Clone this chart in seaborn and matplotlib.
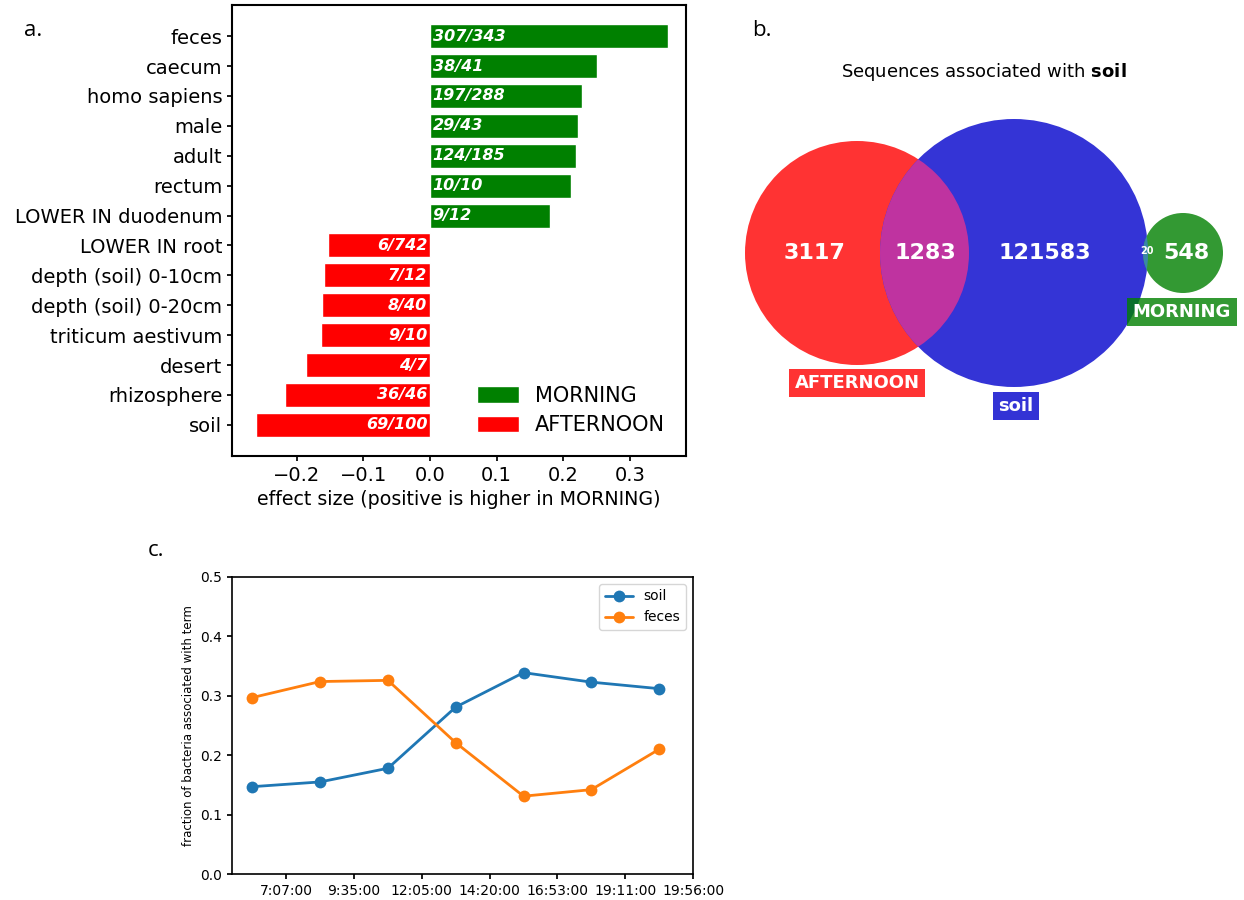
import seaborn as sns
import matplotlib.pyplot as plt
import pandas as pd
from matplotlib.patches import Circle

# PANEL A DATA
terms = ['feces', 'caecum', 'homo sapiens', 'male', 'adult', 'rectum',
         'LOWER IN duodenum', 'LOWER IN root', 'depth (soil) 0-10cm',
         'depth (soil) 0-20cm', 'triticum aestivum', 'desert', 'rhizosphere', 'soil']
effect = [0.357, 0.250, 0.228, 0.222, 0.219, 0.211, 0.180,
          -0.153, -0.159, -0.162, -0.163, -0.186, -0.217, -0.261]
counts = ['307/343', '38/41', '197/288', '29/43', '124/185', '10/10', '9/12',
          '6/742', '7/12', '8/40', '9/10', '4/7', '36/46', '69/100']
groups = ['MORNING', 'AFTERNOON']

# PANEL B DATA (venn region counts)
venn_counts = {'afternoon_only': 3117, 'afternoon_soil': 1283, 'soil_only': 121583,
               'soil_morning': 20, 'morning_only': 548}
venn_names = ['AFTERNOON', 'soil', 'MORNING']

# PANEL C DATA
time_labels = ['7:07:00', '9:35:00', '12:05:00', '14:20:00', '16:53:00', '19:11:00', '19:56:00']
soil_frac = [0.147, 0.155, 0.178, 0.281, 0.339, 0.323, 0.312]
feces_frac = [0.297, 0.324, 0.326, 0.221, 0.131, 0.142, 0.210]

custom_params = {'axes.edgecolor': 'black', 'xtick.color': 'black', 'ytick.color': 'black',
                 'xtick.major.size': 3.5, 'ytick.major.size': 3.5,
                 'text.color': 'black', 'axes.labelcolor': 'black'}
sns.set_theme(style='ticks', rc=custom_params)
plt.rcParams['font.family'] = ['DejaVu Sans']

fig = plt.figure(figsize=(12.44, 9), dpi=100)
W, H = 1244, 900
ax_a = fig.add_axes([232 / W, 1 - 456 / H, (686 - 232) / W, (456 - 5) / H])
ax_b = fig.add_axes([740 / W, 0.5, 504 / W, 0.5])
ax_c = fig.add_axes([232 / W, 1 - 874 / H, (693 - 232) / W, (874 - 577) / H])

# ---------------- PANEL A ----------------
df_a = pd.DataFrame({'term': terms, 'effect': effect,
                     'group': ['MORNING' if e > 0 else 'AFTERNOON' for e in effect]})
sns.barplot(data=df_a, x='effect', y='term', hue='group', hue_order=groups,
            palette={'MORNING': 'green', 'AFTERNOON': 'red'}, dodge=False,
            width=0.8, saturation=1, errorbar=None, ax=ax_a)
for i, (e, c) in enumerate(zip(effect, counts)):
    ax_a.text(0.004 if e > 0 else -0.004, i, c, ha='left' if e > 0 else 'right',
              va='center', color='white', fontsize=11.5, fontweight='bold', fontstyle='italic')
ax_a.set_ylim(len(terms) - 1 + 1.04, -1.04)
ax_a.set_xlim(-0.297, 0.384)
ax_a.set_xticks([-0.2, -0.1, 0.0, 0.1, 0.2, 0.3])
ax_a.set_xticklabels(['\u22120.2', '\u22120.1', '0.0', '0.1', '0.2', '0.3'])
ax_a.set_ylabel('')
ax_a.set_xlabel('effect size (positive is higher in MORNING)', fontsize=13.7)
ax_a.tick_params(labelsize=14)
for s in ax_a.spines.values():
    s.set_linewidth(1.5)
ax_a.legend(loc='lower right', frameon=False, fontsize=15, handlelength=2.0,
            handleheight=0.85, labelspacing=0.45, borderaxespad=0.6)

# ---------------- PANEL B ----------------
ax_b.set_xlim(0, 504)
ax_b.set_ylim(450, 0)
ax_b.axis('off')
red_c = Circle((117, 253), 112, facecolor='#ff3333', edgecolor='none', zorder=1)
blue_c = Circle((274, 253), 134, facecolor='#3434d6', edgecolor='none', zorder=2)
green_c = Circle((443, 253), 40, facecolor='#339933', edgecolor='none', zorder=2)
for p in (red_c, blue_c, green_c):
    ax_b.add_patch(p)
lens1 = Circle((117, 253), 112, facecolor='#bf33a0', edgecolor='none', zorder=3)
ax_b.add_patch(lens1)
lens1.set_clip_path(blue_c)
lens2 = Circle((443, 253), 40, facecolor='#3a86a8', edgecolor='none', zorder=3)
ax_b.add_patch(lens2)
lens2.set_clip_path(blue_c)

num_kw = dict(ha='center', va='center', color='white', fontweight='bold', zorder=5)
ax_b.text(74, 253, str(venn_counts['afternoon_only']), fontsize=16, **num_kw)
ax_b.text(185, 253, str(venn_counts['afternoon_soil']), fontsize=16, **num_kw)
ax_b.text(305, 253, str(venn_counts['soil_only']), fontsize=16, **num_kw)
ax_b.text(407, 251, str(venn_counts['soil_morning']), fontsize=7, **num_kw)
ax_b.text(446, 253, str(venn_counts['morning_only']), fontsize=16, **num_kw)

for name, (x, y), col in zip(venn_names, [(117, 383), (276, 406), (442, 312)],
                              ['red', '#0000cb', 'green']):
    ax_b.text(x, y, name, ha='center', va='center', color='white', fontsize=13,
              fontweight='bold', zorder=6,
              bbox=dict(boxstyle='square,pad=0.3', facecolor=col, alpha=0.8, edgecolor='none'))
ax_b.text(244, 72, r'Sequences associated with $\bf{soil}$', ha='center', va='center', fontsize=13)

# ---------------- PANEL C ----------------
df_c = pd.DataFrame({'idx': list(range(len(soil_frac))) * 2,
                     'fraction': soil_frac + feces_frac,
                     'term': ['soil'] * len(soil_frac) + ['feces'] * len(feces_frac)})
sns.lineplot(data=df_c, x='idx', y='fraction', hue='term', marker='o',
             palette=['tab:blue', 'tab:orange'], linewidth=2, markersize=8.5,
             markeredgewidth=0, ax=ax_c)
ax_c.set_xticks([i + 0.5 for i in range(len(time_labels))])
ax_c.set_xticklabels(time_labels)
ax_c.set_xlim(-0.3, 6.5)
ax_c.set_ylim(0, 0.5)
ax_c.set_yticks([0.0, 0.1, 0.2, 0.3, 0.4, 0.5])
ax_c.set_xlabel('')
ax_c.set_ylabel('fraction of bacteria associated with term', fontsize=8.5)
ax_c.tick_params(labelsize=10)
for s in ax_c.spines.values():
    s.set_linewidth(1.2)
h, l = ax_c.get_legend_handles_labels()
ax_c.legend(h, l, loc='upper right', fontsize=10, frameon=True, framealpha=0.8,
            edgecolor='0.8', fancybox=True)

# PANEL LETTERS
for letter, (x, y) in zip(['a.', 'b.', 'c.'], [(24, 30), (752, 30), (148, 550)]):
    fig.text(x / W, 1 - y / H, letter, fontsize=16, family='Open Sans', va='center')

fig.savefig('out.png', dpi=100)
